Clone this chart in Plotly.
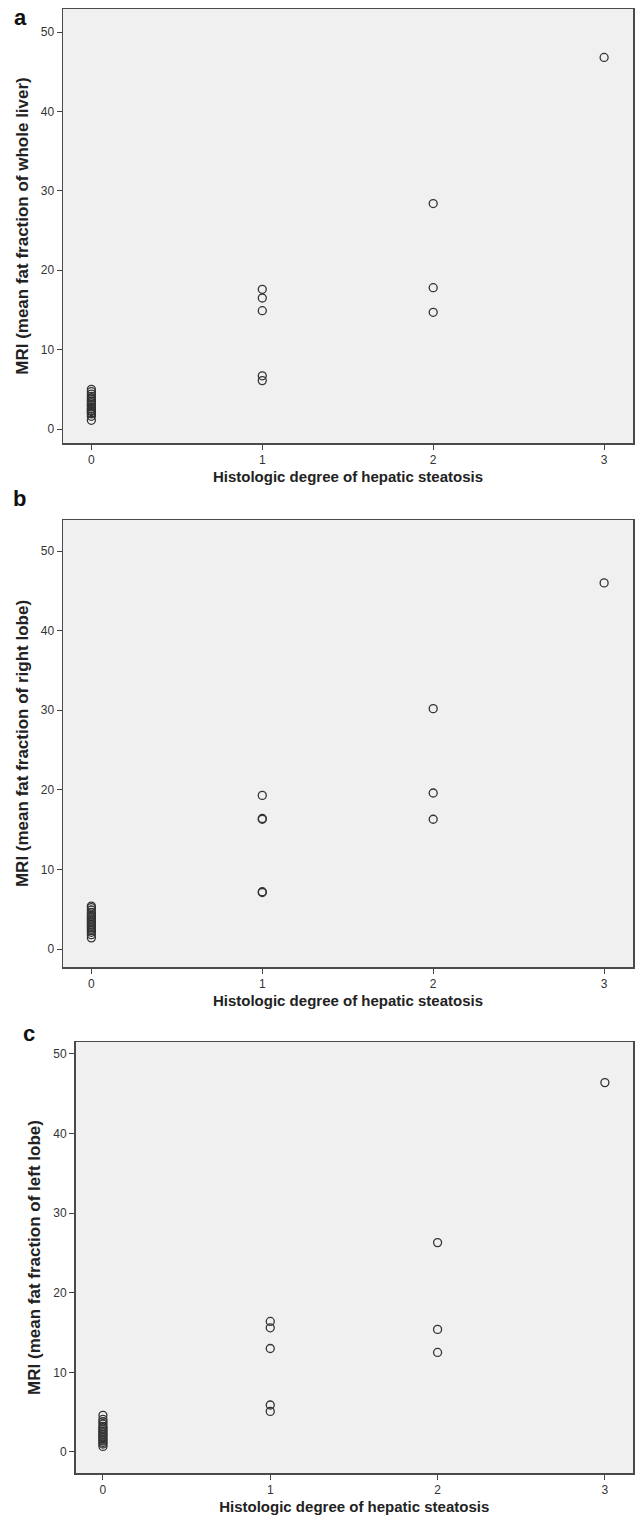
import plotly.graph_objects as go

# ---- data ----
degree_labels = ["0", "1", "2", "3"]

whole_x0 = [1.1, 1.6, 1.9, 2.0, 2.2, 2.3, 2.5, 2.6, 2.8, 3.0, 3.1, 3.3, 3.5, 3.7, 3.9, 4.1, 4.4, 4.7, 5.0]
whole_x1 = [17.6, 16.5, 14.9, 6.7, 6.1]
whole_x2 = [28.4, 17.8, 14.7]
whole_x3 = [46.8]

right_x0 = [1.4, 1.8, 2.1, 2.3, 2.5, 2.7, 2.9, 3.1, 3.3, 3.5, 3.7, 3.9, 4.1, 4.3, 4.6, 4.9, 5.2, 5.4]
right_x1 = [19.3, 16.4, 16.3, 7.2, 7.1]
right_x2 = [30.2, 19.6, 16.3]
right_x3 = [46.0]

left_x0 = [0.7, 1.0, 1.2, 1.4, 1.6, 1.8, 2.0, 2.2, 2.4, 2.6, 2.8, 3.0, 3.2, 3.5, 3.8, 4.1, 4.6]
left_x1 = [16.4, 15.6, 13.0, 5.9, 5.1]
left_x2 = [26.3, 15.4, 12.5]
left_x3 = [46.4]

y_titles = [
    "MRI (mean fat fraction of whole liver)",
    "MRI (mean fat fraction of right lobe)",
    "MRI (mean fat fraction of left lobe)",
]
x_title = "Histologic degree of hepatic steatosis"
panel_letters = ["a", "b", "c"]

panels = [
    [whole_x0, whole_x1, whole_x2, whole_x3],
    [right_x0, right_x1, right_x2, right_x3],
    [left_x0, left_x1, left_x2, left_x3],
]

# ---- layout geometry (page px, body margin removed) ----
W, H = 636, 1520
boxes = [  # left, right, top, bottom in page px
    (63, 633, 9, 443),
    (63, 633, 520, 967),
    (75.5, 633, 1042, 1473),
]
x_ranges = [[-0.166, 3.169], [-0.166, 3.169], [-0.164, 3.168]]
y_ranges = [[-1.76, 52.9], [-2.26, 53.9], [-2.64, 51.5]]
letter_pos = [(20, 17), (19, 498), (29, 1033)]

FONT = "Liberation Sans, Arial, sans-serif"
fig = go.Figure()

for i, groups in enumerate(panels):
    xs, ys = [], []
    for g, vals in enumerate(groups):
        xs += [g] * len(vals)
        ys += vals
    suffix = "" if i == 0 else str(i + 1)
    fig.add_trace(go.Scatter(
        x=xs, y=ys, mode="markers",
        marker=dict(symbol="circle-open", size=8, color="#333333",
                    line=dict(width=1.3, color="#333333")),
        xaxis="x" + suffix, yaxis="y" + suffix, showlegend=False,
        hoverinfo="skip",
    ))
    l, r, t, b = boxes[i]
    axis_common = dict(
        showline=True, linecolor="#4a4a4a", linewidth=1.5, mirror=True,
        ticks="outside", ticklen=5, tickwidth=1, tickcolor="#444444",
        showgrid=False, zeroline=False,
        tickfont=dict(family=FONT, size=12, color="#333333"),
    )
    fig.update_layout(**{
        "xaxis" + suffix: dict(
            domain=[l / W, r / W], range=x_ranges[i], anchor="y" + suffix,
            tickmode="array", tickvals=[0, 1, 2, 3], ticktext=degree_labels,
            title=dict(text="<b>" + x_title + "</b>", standoff=5,
                       font=dict(family=FONT, size=15, color="#222222")),
            **axis_common),
        "yaxis" + suffix: dict(
            domain=[1 - b / H, 1 - t / H], range=y_ranges[i], anchor="x" + suffix,
            tickmode="array", tickvals=[0, 10, 20, 30, 40, 50],
            title=dict(text="<b>" + y_titles[i] + "</b>", standoff=8,
                       font=dict(family=FONT, size=17, color="#222222")),
            **axis_common),
    })
    lx, ly = letter_pos[i]
    fig.add_annotation(
        x=lx / W, y=1 - ly / H, xref="paper", yref="paper",
        text="<b>" + panel_letters[i] + "</b>", showarrow=False,
        font=dict(family=FONT, size=22, color="#111111"),
        xanchor="center", yanchor="middle",
    )

fig.update_layout(
    width=W, height=H,
    margin=dict(l=0, r=0, t=0, b=0),
    paper_bgcolor="white", plot_bgcolor="#f0f0f0",
)

fig.write_html(
    "out.html",
    config={"displayModeBar": False, "staticPlot": True},
    post_script="document.body.style.margin='0';document.body.style.overflow='hidden';",
)
